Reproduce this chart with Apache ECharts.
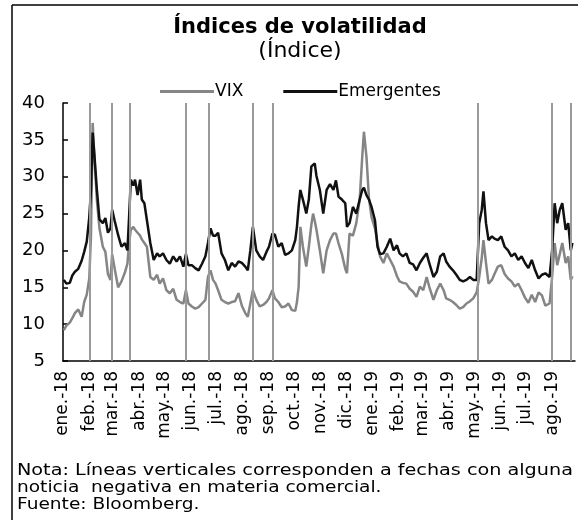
<!DOCTYPE html>
<html>
<head>
<meta charset="utf-8">
<script src="https://cdn.jsdelivr.net/npm/echarts@6/dist/echarts.min.js"></script>
<style>
  html, body { margin: 0; padding: 0; background: #fff; }
  #chart { width: 578px; height: 520px; }
</style>
</head>
<body>
<div id="chart"></div>
<script>
// fechas de observación
const fechas = [
  '2018-01-02','2018-01-05','2018-01-09','2018-01-12','2018-01-15','2018-01-19','2018-01-23','2018-01-26','2018-01-29',
  '2018-02-01','2018-02-03','2018-02-05','2018-02-07','2018-02-10','2018-02-13','2018-02-17','2018-02-20','2018-02-23','2018-02-26','2018-02-28',
  '2018-03-03','2018-03-07','2018-03-11','2018-03-15','2018-03-18','2018-03-20','2018-03-22','2018-03-25','2018-03-27','2018-03-30',
  '2018-04-02','2018-04-04','2018-04-07','2018-04-10','2018-04-14','2018-04-18','2018-04-22','2018-04-25','2018-04-29',
  '2018-05-03','2018-05-07','2018-05-11','2018-05-15','2018-05-19','2018-05-23','2018-05-26','2018-05-29',
  '2018-06-02','2018-06-06','2018-06-10','2018-06-14','2018-06-18','2018-06-21','2018-06-24','2018-06-27','2018-06-30',
  '2018-07-03','2018-07-07','2018-07-11','2018-07-15','2018-07-19','2018-07-23','2018-07-27','2018-07-31',
  '2018-08-04','2018-08-07','2018-08-10','2018-08-13','2018-08-17','2018-08-21','2018-08-25','2018-08-29',
  '2018-09-01','2018-09-05','2018-09-08','2018-09-12','2018-09-16','2018-09-20','2018-09-24','2018-09-28',
  '2018-10-02','2018-10-04','2018-10-06','2018-10-08','2018-10-11','2018-10-15','2018-10-18','2018-10-21','2018-10-23','2018-10-25','2018-10-27','2018-10-31',
  '2018-11-04','2018-11-08','2018-11-12','2018-11-16','2018-11-19','2018-11-22','2018-11-26','2018-11-30',
  '2018-12-02','2018-12-05','2018-12-09','2018-12-13','2018-12-17','2018-12-20','2018-12-22','2018-12-25','2018-12-28','2018-12-31',
  '2019-01-04','2019-01-07','2019-01-10','2019-01-14','2019-01-18','2019-01-22','2019-01-26','2019-01-30',
  '2019-02-02','2019-02-06','2019-02-10','2019-02-14','2019-02-18','2019-02-22','2019-02-26',
  '2019-03-02','2019-03-06','2019-03-09','2019-03-14','2019-03-18','2019-03-22','2019-03-26','2019-03-29',
  '2019-04-02','2019-04-06','2019-04-10','2019-04-14','2019-04-18','2019-04-22','2019-04-26','2019-04-30',
  '2019-05-04','2019-05-07','2019-05-10','2019-05-12','2019-05-15','2019-05-18','2019-05-22','2019-05-25','2019-05-29',
  '2019-06-02','2019-06-06','2019-06-10','2019-06-14','2019-06-18','2019-06-22','2019-06-26','2019-06-30',
  '2019-07-04','2019-07-08','2019-07-12','2019-07-16','2019-07-20','2019-07-24','2019-07-29',
  '2019-08-01','2019-08-04','2019-08-07','2019-08-10','2019-08-13','2019-08-17','2019-08-20','2019-08-23','2019-08-25'
];

const vix = [
  9.2, 9.8, 10.2, 10.8, 11.5, 12, 11, 13, 14,
  16.2, 22, 37.3, 32.7, 26.8, 23, 20.5, 19.8, 16.8, 16, 19.5,
  17.5, 15, 15.8, 17, 18.2, 21, 22.8, 23.2, 22.8, 22.4,
  22, 21.5, 21, 20.5, 16.4, 16, 16.7, 15.5, 16.2,
  14.6, 14.2, 14.8, 13.3, 13, 12.8, 14.6, 12.8,
  12.4, 12.1, 12.3, 12.8, 13.3, 16.4, 17.3, 16, 15.5,
  14.6, 13.3, 13, 12.8, 13, 13.1, 14.2, 12.5,
  11.5, 11, 12.8, 14.6, 13.3, 12.4, 12.6, 13,
  13.5, 14.6, 13.5, 13, 12.3, 12.4, 12.8, 11.9,
  11.8, 13, 15.1, 23.2, 20.5, 17.8, 20.5, 23.5, 25, 24, 22.8, 20,
  16.9, 20, 21.4, 22.3, 22.3, 21, 19.5, 17.5,
  16.9, 22.3, 22, 23.7, 26.9, 32.7, 36.1, 32.7, 27, 24.5,
  23, 21, 19.2, 18.3, 19.6, 18.7, 17.8, 16.5,
  15.8, 15.6, 15.5, 14.8, 14.4, 13.7, 15.1,
  14.6, 16.4, 15.1, 13.3, 14.6, 15.5, 14.6, 13.5,
  13.3, 13, 12.6, 12.1, 12.3, 12.8, 13.1, 13.5,
  14.3, 16.4, 19, 21.4, 18.3, 15.5, 16, 16.8, 17.8,
  18, 16.8, 16.2, 15.8, 15.1, 15.5, 14.6, 13.6,
  12.9, 14, 13, 14.3, 13.9, 12.5, 12.8,
  16.4, 21, 18, 19.5, 21, 18.3, 19.2, 16, 16.5
];

const emergentes = [
  16, 15.5, 15.6, 16.6, 17.1, 17.5, 18.6, 19.8, 21.2,
  24.5, 28.2, 36, 33, 28.2, 24.2, 23.7, 24.4, 22.4, 23, 25.5,
  24, 22.1, 20.5, 21, 20, 24.6, 29.6, 28.8, 29.6, 27.5,
  29.6, 26.9, 26.4, 24.1, 21, 18.7, 19.6, 19.2, 19.6,
  18.7, 18.2, 19.2, 18.5, 19.2, 17.8, 19.5, 18,
  18, 17.6, 17.3, 18.2, 19.2, 21, 23, 22, 22,
  22.4, 19.6, 18.7, 17.3, 18.3, 17.8, 18.5, 18.3,
  17.8, 17.3, 20, 23.2, 20, 19.2, 18.7, 19.8,
  20.5, 22.3, 22.1, 20.5, 21, 19.4, 19.6, 20,
  21.4, 23.2, 26, 28.2, 26.9, 25, 26.9, 31.4, 31.5, 31.8, 30.1, 28.2,
  25, 28.2, 29, 28.2, 29.5, 27.3, 26.9, 26.4,
  23.2, 23.7, 25.9, 25, 26.9, 28.2, 28.5, 27.5, 26.9, 25.9,
  24.1, 20.5, 19.5, 19.6, 20.5, 21.6, 20, 20.7,
  19.6, 19.2, 19.6, 18.3, 18.1, 17.3, 18.3,
  19, 19.6, 18.3, 16.4, 17.1, 19.2, 19.6, 18.5,
  17.8, 17.3, 16.7, 16, 15.8, 16, 16.4, 16,
  16, 23.7, 25.5, 28, 23.7, 21.4, 21.9, 21.6, 21.4,
  21.9, 20.5, 20, 19.2, 19.6, 18.7, 19.2, 18.3,
  17.6, 18.7, 17.3, 16.2, 16.7, 16.9, 16.4,
  20, 26.4, 23.7, 25.5, 26.4, 22.8, 23.7, 20, 21
];

// fechas con noticias comerciales negativas (líneas verticales)
const noticias = [
  '2018-02-02','2018-02-27','2018-03-21','2018-05-26','2018-06-22',
  '2018-08-13','2018-09-05','2019-05-05','2019-08-01','2019-08-23'
];

const meses = ['ene','feb','mar','abr','may','jun','jul','ago','sep','oct','nov','dic'];

const fuente = 'DejaVu Sans';

const chart = echarts.init(document.getElementById('chart'));

const option = {
  animation: false,
  backgroundColor: '#ffffff',
  textStyle: { fontFamily: fuente, color: '#000' },
  legend: {
    data: ['VIX', 'Emergentes'],
    left: 155,
    top: 78,
    icon: 'rect',
    itemWidth: 54,
    itemHeight: 3,
    itemGap: 40,
    textStyle: { fontFamily: fuente, fontSize: 17, color: '#000', padding: [0, 0, 0, -4] }
  },
  grid: { left: 63, right: 3, top: 103, bottom: 159 },
  xAxis: {
    type: 'time',
    min: '2018-01-01',
    max: '2019-08-28',
    splitNumber: 20,
    minInterval: 28 * 86400000,
    maxInterval: 31 * 86400000,
    axisLine: { lineStyle: { color: '#000', width: 1.5 } },
    axisTick: { show: false },
    splitLine: { show: false },
    axisLabel: {
      rotate: 90,
      margin: 10,
      fontSize: 17,
      color: '#000',
      fontFamily: fuente,
      formatter: function (val) {
        const d = new Date(val);
        return meses[d.getMonth()] + '.-' + String(d.getFullYear()).slice(2);
      }
    }
  },
  yAxis: {
    type: 'value',
    min: 5,
    max: 40,
    interval: 5,
    axisLine: { show: true, lineStyle: { color: '#000', width: 1.5 } },
    axisTick: { show: true, inside: true, length: 5, lineStyle: { color: '#000', width: 1.5 } },
    splitLine: { show: false },
    axisLabel: { fontSize: 18, color: '#000', margin: 18, fontFamily: fuente }
  },
  series: [
    {
      name: 'VIX',
      type: 'line',
      symbol: 'none',
      data: fechas.map((f, i) => [f, vix[i]]),
      lineStyle: { color: '#858585', width: 2.5 },
      itemStyle: { color: '#858585' },
      markLine: {
        silent: true,
        symbol: 'none',
        label: { show: false },
        lineStyle: { color: '#9a9a9a', width: 2, type: 'solid' },
        data: noticias.map(f => ({ xAxis: f }))
      }
    },
    {
      name: 'Emergentes',
      type: 'line',
      symbol: 'none',
      data: fechas.map((f, i) => [f, emergentes[i]]),
      lineStyle: { color: '#111', width: 2.5 },
      itemStyle: { color: '#111' }
    }
  ],
  graphic: [
    { type: 'line', shape: { x1: 12, y1: 5, x2: 12, y2: 520 }, style: { stroke: '#000', lineWidth: 1.5 } },
    { type: 'line', shape: { x1: 12, y1: 5, x2: 578, y2: 5 }, style: { stroke: '#000', lineWidth: 1.5 } },
    {
      type: 'text', x: 300, y: 17,
      style: { text: 'Índices de volatilidad', font: 'bold 21px "DejaVu Sans"', fill: '#000', textAlign: 'center' }
    },
    {
      type: 'text', x: 300, y: 40,
      style: { text: '(Índice)', font: '22px "DejaVu Sans"', fill: '#000', textAlign: 'center' }
    },
    {
      type: 'text', x: 17, y: 463, scaleX: 1.2,
      style: { text: 'Nota: Líneas verticales corresponden a fechas con alguna', font: '16px "DejaVu Sans"', fill: '#000' }
    },
    {
      type: 'text', x: 17, y: 480, scaleX: 1.16,
      style: { text: 'noticia  negativa en materia comercial.', font: '16px "DejaVu Sans"', fill: '#000' }
    },
    {
      type: 'text', x: 17, y: 497, scaleX: 1.16,
      style: { text: 'Fuente: Bloomberg.', font: '16px "DejaVu Sans"', fill: '#000' }
    }
  ]
};

chart.setOption(option);
</script>
</body>
</html>
